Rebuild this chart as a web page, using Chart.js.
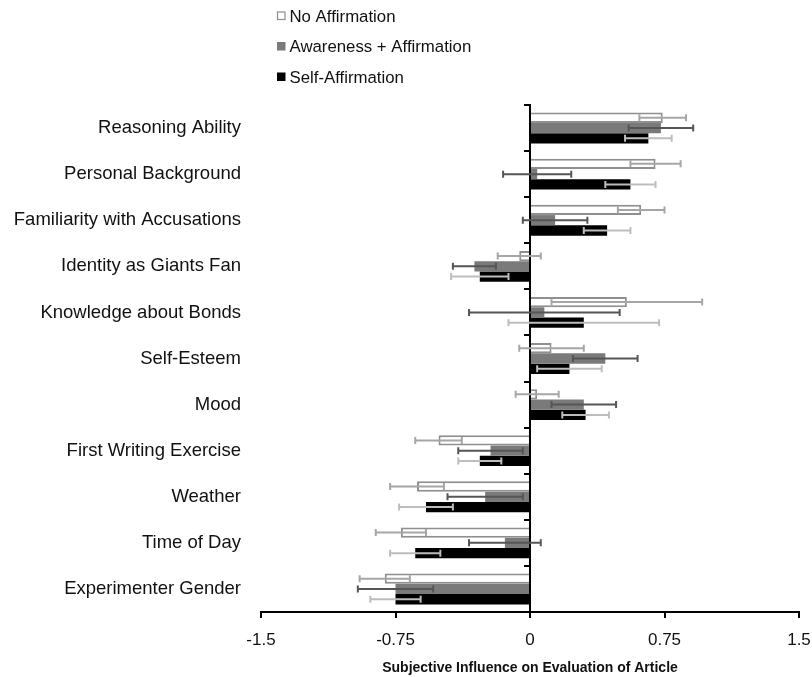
<!DOCTYPE html>
<html>
<head>
<meta charset="utf-8">
<title>Subjective Influence on Evaluation of Article</title>
<script src="https://cdn.jsdelivr.net/npm/chart.js@4.4.1/dist/chart.umd.min.js"></script>
<style>
  html, body { margin: 0; padding: 0; background: #fff; }
  #wrap { position: relative; width: 812px; height: 677px; }
</style>
</head>
<body>
<div id="wrap"><canvas id="influenceChart"></canvas></div>
<script>
// categories, top to bottom
const categories = [
  "Reasoning Ability",
  "Personal Background",
  "Familiarity with Accusations",
  "Identity as Giants Fan",
  "Knowledge about Bonds",
  "Self-Esteem",
  "Mood",
  "First Writing Exercise",
  "Weather",
  "Time of Day",
  "Experimenter Gender"
];

// mean influence per condition
const noAffirmation        = [0.74, 0.70, 0.62, -0.06, 0.54, 0.12, 0.04, -0.51, -0.63, -0.72, -0.81];
const awarenessAffirmation = [0.73, 0.04, 0.14, -0.31, 0.08, 0.42, 0.30, -0.22, -0.25, -0.14, -0.75];
const selfAffirmation      = [0.66, 0.56, 0.43, -0.28, 0.30, 0.22, 0.31, -0.28, -0.58, -0.64, -0.75];

// standard errors (drawn as +/- bars)
const noAffirmationErr        = [0.13, 0.14, 0.13, 0.12, 0.42, 0.18, 0.12, 0.13, 0.15, 0.14, 0.14];
const awarenessAffirmationErr = [0.18, 0.19, 0.18, 0.12, 0.42, 0.18, 0.18, 0.18, 0.21, 0.20, 0.21];
const selfAffirmationErr      = [0.13, 0.14, 0.13, 0.16, 0.42, 0.18, 0.13, 0.12, 0.15, 0.14, 0.14];

const xTicks = [-1.5, -0.75, 0, 0.75, 1.5];
const xTitle = "Subjective Influence on Evaluation of Article";

// error bars with caps, drawn on top of the bars
const errorBars = {
  id: "errorBars",
  afterDatasetsDraw(chart) {
    const ctx = chart.ctx;
    const xs = chart.scales.x;
    chart.data.datasets.forEach((ds, i) => {
      const meta = chart.getDatasetMeta(i);
      if (meta.hidden) return;
      ctx.save();
      ctx.strokeStyle = ds.errorColor;
      ctx.lineWidth = 2;
      meta.data.forEach((bar, j) => {
        const v = ds.data[j], e = ds.errors[j];
        const lo = xs.getPixelForValue(v - e);
        const hi = xs.getPixelForValue(v + e);
        const y = bar.y, cap = 3.5;
        ctx.beginPath();
        ctx.moveTo(lo, y); ctx.lineTo(hi, y);
        ctx.moveTo(lo, y - cap); ctx.lineTo(lo, y + cap);
        ctx.moveTo(hi, y - cap); ctx.lineTo(hi, y + cap);
        ctx.stroke();
      });
      ctx.restore();
    });
  }
};

// stacked legend in the top left corner
const stackedLegend = {
  id: "stackedLegend",
  afterDraw(chart) {
    const ctx = chart.ctx;
    ctx.save();
    ctx.font = "16.8px 'Liberation Sans', Arial, sans-serif";
    ctx.textBaseline = "middle";
    ctx.textAlign = "left";
    chart.data.datasets.forEach((ds, i) => {
      const y = 16 + i * 30.5;
      ctx.fillStyle = ds.backgroundColor;
      ctx.fillRect(277, y - 4.5, 8.5, 8.5);
      if (ds.borderWidth) {
        ctx.strokeStyle = ds.borderColor;
        ctx.lineWidth = 1.2;
        ctx.strokeRect(277.5, y - 4, 7.5, 7.5);
      }
      ctx.fillStyle = "#111";
      ctx.fillText(ds.label, 289.5, y + 1);
    });
    ctx.restore();
  }
};

const ctx = document.getElementById("influenceChart").getContext("2d");
new Chart(ctx, {
  type: "bar",
  data: {
    labels: categories,
    datasets: [
      {
        label: "No Affirmation",
        data: noAffirmation,
        errors: noAffirmationErr,
        backgroundColor: "#ffffff",
        borderColor: "#8f8f8f",
        borderWidth: 2,
        errorColor: "#a6a6a6"
      },
      {
        label: "Awareness + Affirmation",
        data: awarenessAffirmation,
        errors: awarenessAffirmationErr,
        backgroundColor: "#7a7a7a",
        borderWidth: 0,
        errorColor: "#555555"
      },
      {
        label: "Self-Affirmation",
        data: selfAffirmation,
        errors: selfAffirmationErr,
        backgroundColor: "#000000",
        borderWidth: 0,
        errorColor: "#bdbdbd"
      }
    ]
  },
  options: {
    indexAxis: "y",
    responsive: true,
    maintainAspectRatio: false,
    animation: false,
    categoryPercentage: 0.67,
    barPercentage: 1.0,
    layout: { padding: { top: 105, right: 13, bottom: 0, left: 0 } },
    plugins: {
      legend: { display: false },
      tooltip: { enabled: false }
    },
    scales: {
      x: {
        type: "linear",
        min: -1.5,
        max: 1.5,
        afterBuildTicks: s => { s.ticks = xTicks.map(v => ({ value: v })); },
        afterFit: s => {
          s.height = 65;
          s.paddingLeft = 0;
          s.paddingRight = 0;
        },
        ticks: {
          callback: v => String(v),
          color: "#111",
          padding: 12,
          maxRotation: 0,
          font: { family: "'Liberation Sans', Arial, sans-serif", size: 17 }
        },
        grid: {
          drawOnChartArea: false,
          drawTicks: true,
          tickLength: 6,
          color: "#000",
          lineWidth: 2
        },
        border: { display: true, color: "#000", width: 2 },
        title: {
          display: true,
          text: xTitle,
          color: "#111",
          padding: { top: 0, bottom: 0 },
          font: { family: "'Liberation Sans', Arial, sans-serif", size: 14, weight: "bold" }
        }
      },
      y: {
        type: "category",
        position: "left",
        offset: true,
        afterFit: s => { s.width = 261; },
        ticks: {
          color: "#111",
          padding: 20,
          font: { family: "'Liberation Sans', Arial, sans-serif", size: 18.5 }
        },
        grid: { display: false, drawTicks: false },
        border: { display: false }
      },
      // vertical axis line through zero with ticks between groups
      yZero: {
        type: "category",
        axis: "y",
        position: { x: 0 },
        offset: true,
        ticks: { display: false },
        grid: {
          offset: true,
          drawOnChartArea: false,
          drawTicks: true,
          tickLength: 5,
          color: "#000",
          lineWidth: 2
        },
        border: { display: true, color: "#000", width: 2 }
      }
    }
  },
  plugins: [errorBars, stackedLegend]
});
</script>
</body>
</html>
